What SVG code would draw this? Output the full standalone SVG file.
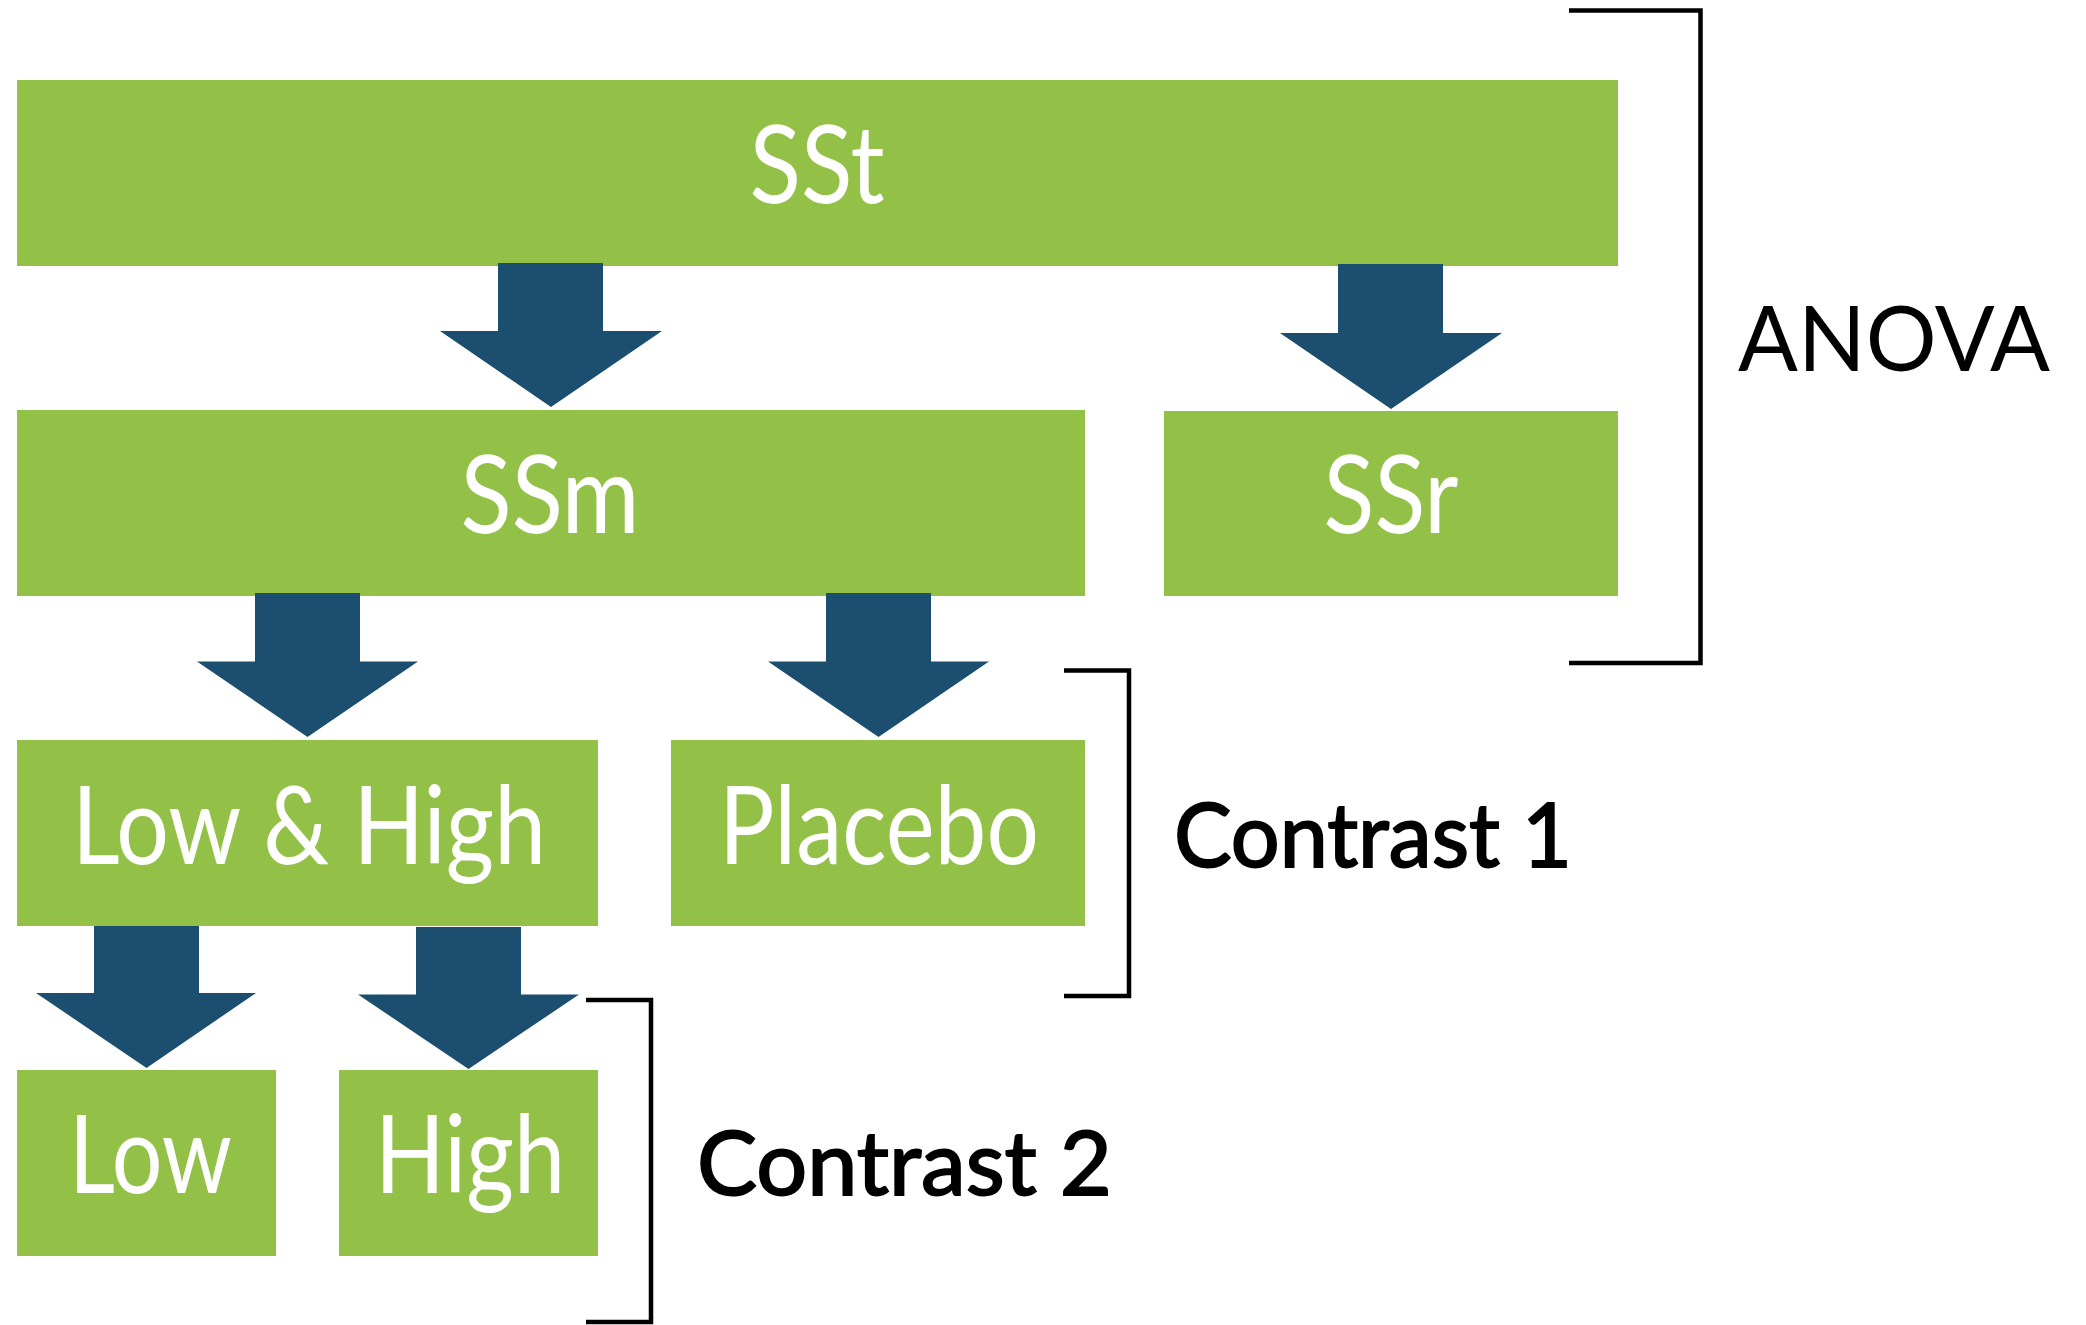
<svg xmlns="http://www.w3.org/2000/svg" width="2086" height="1325" viewBox="0 0 2086 1325">
<style>
.box{fill:#93C047;}
.lbl{fill:#FFFFFF;font-family:Lato,"Liberation Sans",sans-serif;font-size:108px;text-anchor:middle;}
.arrow{fill:#1C4E6F;}
.brk{fill:none;stroke:#000;stroke-width:4.5;stroke-linejoin:miter;}
.side{fill:#000;font-family:Lato,"Liberation Sans",sans-serif;font-size:92px;}
.con{fill:#000;stroke:#000;stroke-width:2;font-family:Lato,"Liberation Sans",sans-serif;font-size:90px;}
</style>
<rect width="2086" height="1325" fill="#FFFFFF"/>
<g id="node-sst"><rect class="box" x="17" y="80" width="1601" height="186"/><text class="lbl" x="817" y="203" textLength="135" lengthAdjust="spacingAndGlyphs">SSt</text></g>
<g id="node-ssm"><rect class="box" x="17" y="410" width="1068" height="186"/><text class="lbl" x="550" y="533" textLength="179" lengthAdjust="spacingAndGlyphs">SSm</text></g>
<g id="node-ssr"><rect class="box" x="1164" y="411" width="454" height="185"/><text class="lbl" x="1391" y="533" textLength="135" lengthAdjust="spacingAndGlyphs">SSr</text></g>
<g id="node-lowhigh"><rect class="box" x="17" y="740" width="581" height="186"/><text class="lbl" x="309" y="863.5" textLength="474" lengthAdjust="spacingAndGlyphs">Low &amp; High</text></g>
<g id="node-placebo"><rect class="box" x="671" y="740" width="414" height="186"/><text class="lbl" x="879" y="863.5" textLength="320" lengthAdjust="spacingAndGlyphs">Placebo</text></g>
<g id="node-low"><rect class="box" x="17" y="1070" width="259" height="186"/><text class="lbl" x="150.5" y="1193" textLength="163" lengthAdjust="spacingAndGlyphs">Low</text></g>
<g id="node-high"><rect class="box" x="339" y="1070" width="259" height="186"/><text class="lbl" x="470" y="1193" textLength="190" lengthAdjust="spacingAndGlyphs">High</text></g>
<g id="connectors">
<polygon class="arrow" points="498,263 603,263 603,331 662,331 551,407 440,331 498,331"/>
<polygon class="arrow" points="1338,264 1443,264 1443,333 1502,333 1391,409 1280,333 1338,333"/>
<polygon class="arrow" points="255,593 360,593 360,661.5 418,661.5 307.5,737 197,661.5 255,661.5"/>
<polygon class="arrow" points="826,593 931,593 931,661.5 989,661.5 878.5,737 768,661.5 826,661.5"/>
<polygon class="arrow" points="94,926 199,926 199,993 256,993 146.5,1068 36,993 94,993"/>
<polygon class="arrow" points="416,927 521,927 521,994.5 579,994.5 468.5,1069 358,994.5 416,994.5"/>
</g>
<g id="bracket-anova"><polyline class="brk" points="1569,10.5 1700.5,10.5 1700.5,663 1569,663"/><text class="side" x="1738" y="371" textLength="312" lengthAdjust="spacingAndGlyphs">ANOVA</text></g>
<g id="bracket-contrast1"><polyline class="brk" points="1064,670.5 1129,670.5 1129,996 1064,996"/><text class="con" x="1174" y="867" textLength="398" lengthAdjust="spacingAndGlyphs">Contrast 1</text></g>
<g id="bracket-contrast2"><polyline class="brk" points="586,1000 651,1000 651,1322 586,1322"/><text class="con" x="697" y="1195" textLength="415" lengthAdjust="spacingAndGlyphs">Contrast 2</text></g>
</svg>
